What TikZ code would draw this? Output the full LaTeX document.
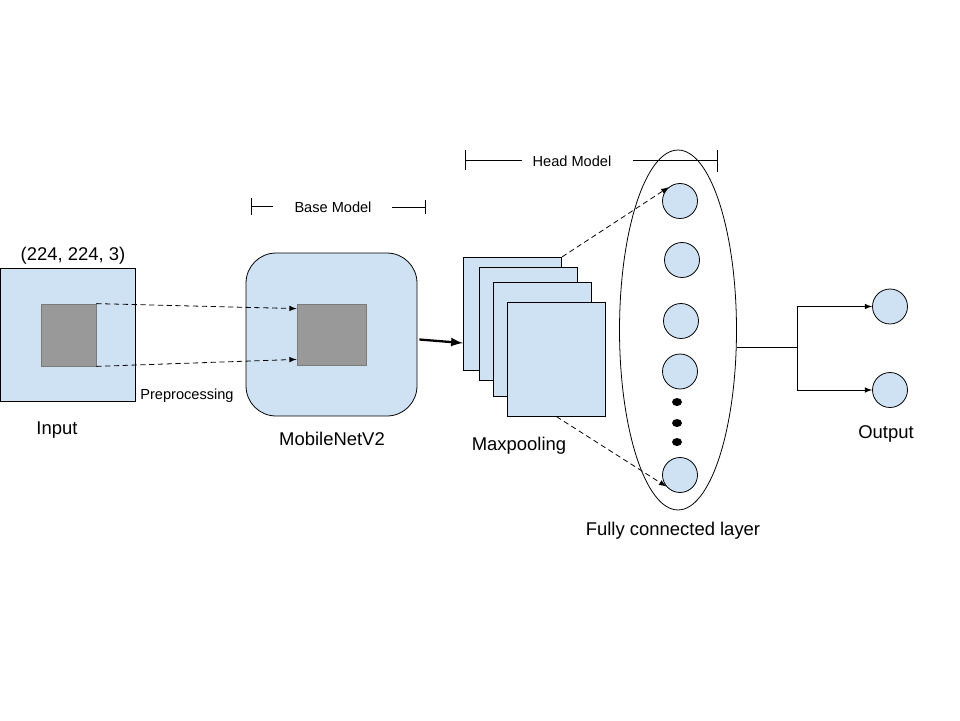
\documentclass[tikz,border=0pt]{standalone}
\usepackage{fontspec}
\setmainfont{Liberation Sans}
\usepackage{tikz}
\usetikzlibrary{arrows,calc,shapes.geometric}
\definecolor{lightblue}{HTML}{CFE2F3}
\definecolor{patchgray}{HTML}{999999}
\definecolor{patchedge}{HTML}{7A7A7A}
\begin{document}
\begin{tikzpicture}[x=0.02cm,y=-0.02cm,line width=0.45pt,
  box/.style={draw,fill=lightblue,inner sep=0pt},
  patch/.style={draw=patchedge,fill=patchgray,inner sep=0pt},
  neuron/.style={circle,draw,fill=lightblue,inner sep=0pt,minimum size=0.7cm},
  dotnode/.style={ellipse,fill=black,inner sep=0pt,minimum width=0.2cm,minimum height=0.16cm},
  lbl/.style={font=\fontsize{10.5}{12}\selectfont,inner sep=0pt},
  tag/.style={font=\fontsize{8.3}{10}\selectfont,inner sep=0pt},
  dasharrow/.style={-latex,dash pattern=on 3pt off 2pt,line width=0.45pt}]
\useasboundingbox[fill=white] (0,0) rectangle (960,720);

\node[box,minimum width=2.7cm,minimum height=2.66cm] (input) at (68,334.5) {};
\node[patch,minimum width=1.1cm,minimum height=1.24cm] (inpatch) at (68.5,335) {};
\node[lbl] (shape) at (73,256) {(224, 224, 3)};
\node[tag] (prep) at (187,396) {Preprocessing};
\node[lbl] (inlbl) at (57,430) {Input};

\node[box,rounded corners=0.6cm,minimum width=3.42cm,minimum height=3.26cm] (base) at (331.5,334.5) {};
\node[patch,minimum width=1.38cm,minimum height=1.22cm] (basepatch) at (331.5,334.5) {};
\node[lbl] (baselbl) at (332,439) {MobileNetV2};
\draw[dasharrow] (inpatch.north east) -- ($(basepatch.north west)+(0,5)$);
\draw[dasharrow] (inpatch.south east) -- ($(basepatch.south west)+(0,-6)$);

\node[tag] (basetxt) at (333,207) {Base Model};
\draw (251,198) -- (251,215);
\draw (251,206) -- (273,206);
\draw (392,207) -- (425,207);
\draw (425,200) -- (425,214);

\node[box,minimum width=1.97cm,minimum height=2.27cm] (pool1) at (512.5,314) {};
\node[box,minimum width=1.97cm,minimum height=2.27cm] (pool2) at (528.5,324) {};
\node[box,minimum width=1.97cm,minimum height=2.27cm] (pool3) at (542.5,339.5) {};
\node[box,minimum width=1.97cm,minimum height=2.27cm] (pool4) at (556.5,359.5) {};
\node[lbl] (poollbl) at (519,446) {Maxpooling};
\draw[-latex,line width=1.3pt] ($(base.east)+(2,5)$) -- ($(pool1.west)+(0,29)$);

\node[tag] (headtxt) at (572,161) {Head Model};
\draw (465,150) -- (465,170);
\draw (465,160) -- (522,160);
\draw (633,160) -- (717,160);
\draw (717,150) -- (717,172);

\node[ellipse,draw,inner sep=0pt,minimum width=2.34cm,minimum height=7.2cm] (fc) at (678,330) {};
\node[neuron] (n1) at (680,201) {};
\node[neuron] (n2) at (682,260) {};
\node[neuron] (n3) at (681,321) {};
\node[neuron] (n4) at (680,371.5) {};
\node[dotnode] (d1) at (677,402) {};
\node[dotnode] (d2) at (677,423) {};
\node[dotnode] (d3) at (677,442) {};
\node[neuron] (n5) at (680,475) {};
\node[lbl] (fclbl) at (673,531) {Fully connected layer};
\draw[dasharrow] (pool1.north east) -- (n1.130);
\draw[dasharrow] (pool4.south) -- (n5.220);

\coordinate (split) at (797,347);
\node[neuron] (out1) at (890,306.5) {};
\node[neuron] (out2) at (890,390) {};
\node[lbl] (outlbl) at (886,434) {Output};
\draw ($(fc.east)+(0,17)$) -- (split);
\draw (split |- out1) -- (split |- out2);
\draw[-latex] (split |- out1) -- (out1.west);
\draw[-latex] (split |- out2) -- (out2.west);
\end{tikzpicture}
\end{document}
